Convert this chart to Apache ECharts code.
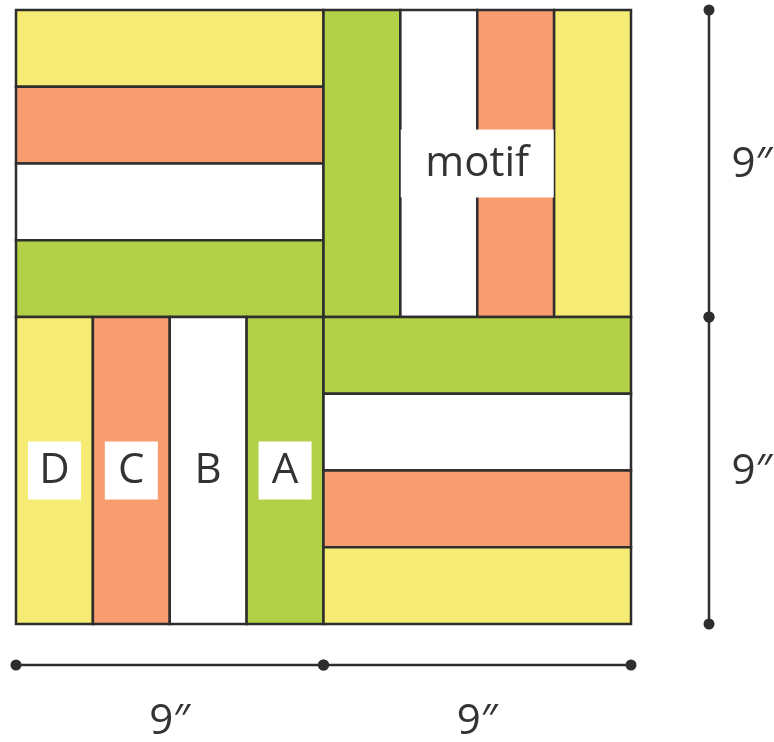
<!DOCTYPE html>
<html>
<head>
<meta charset="utf-8">
<script src="https://cdn.jsdelivr.net/npm/echarts@6/dist/echarts.min.js"></script>
<style>
html,body{margin:0;padding:0;background:#fff;}
#chart{width:774px;height:742px;}
</style>
</head>
<body>
<div id="chart"></div>
<script>
// ---- data (inches) ----
const blockSize = 9;              // each quadrant is 9" square
const stripsPerBlock = 4;
const quadrantCols = [0, 1, 0, 1];
const quadrantRows = [0, 0, 1, 1];
const quadrantOrientation = ['h', 'v', 'v', 'h']; // h = horizontal strips, v = vertical strips
const quadrantStrips = [
  ['yellow', 'salmon', 'white', 'green'],
  ['green', 'white', 'salmon', 'yellow'],
  ['yellow', 'salmon', 'white', 'green'],
  ['green', 'white', 'salmon', 'yellow']
];
const stripLetters = ['D', 'C', 'B', 'A'];     // strips of bottom-left quadrant
const stripLetterQuadrant = 2;
const motifLabel = 'motif';
const motifQuadrant = 1;
const dimTicks = [0, 9, 18];
const dimLabels = ['9\u2033', '9\u2033'];

// ---- styles ----
const palette = { yellow: '#f6ec73', salmon: '#f89d6f', white: '#ffffff', green: '#b3d146' };
const ink = '#2e2e2e';
const textColor = '#333333';
const fontFamily = '"Open Sans", "DejaVu Sans", sans-serif';

// build strip rectangles
const stripData = [];
quadrantStrips.forEach((strips, q) => {
  const qx = quadrantCols[q] * blockSize, qy = quadrantRows[q] * blockSize;
  const w = blockSize / stripsPerBlock;
  strips.forEach((c, i) => {
    let r;
    if (quadrantOrientation[q] === 'h') r = [qx, qy + i * w, qx + blockSize, qy + (i + 1) * w];
    else r = [qx + i * w, qy, qx + (i + 1) * w, qy + blockSize];
    stripData.push({ value: r, itemStyle: { color: palette[c] } });
  });
});

// labelled strips
const letterData = stripLetters.map((t, i) => {
  const w = blockSize / stripsPerBlock;
  const qx = quadrantCols[stripLetterQuadrant] * blockSize, qy = quadrantRows[stripLetterQuadrant] * blockSize;
  return { value: [qx + (i + 0.5) * w, qy + blockSize / 2], name: t, box: t !== 'B' };
});
const motifData = [{
  value: [quadrantCols[motifQuadrant] * blockSize + blockSize / 2, quadrantRows[motifQuadrant] * blockSize + blockSize / 2],
  name: motifLabel, box: true
}];

const segs = [];
for (let i = 0; i < dimTicks.length - 1; i++) segs.push({ value: [dimTicks[i], dimTicks[i + 1]], name: dimLabels[i] });

const total = blockSize * 2;
const chart = echarts.init(document.getElementById('chart'));

function labelItem(boxW, boxH) {
  return function (params, api) {
    const p = api.coord([api.value(0), api.value(1)]);
    const d = params.dataIndex;
    const item = this_data[params.seriesName][d];
    const children = [];
    if (item.box) children.push({ type: 'rect', shape: { x: p[0] - boxW / 2, y: p[1] - boxH / 2, width: boxW, height: boxH }, style: { fill: '#fff' } });
    children.push({ type: 'text', style: { text: item.name, x: p[0], y: p[1] + 1, align: 'center', verticalAlign: 'middle', fill: textColor, font: '42px ' + fontFamily } });
    return { type: 'group', children };
  };
}
const this_data = { letters: letterData, motif: motifData };

function dimRender(horizontal) {
  return function (params, api) {
    const a = api.value(0), b = api.value(1);
    let p0, p1;
    if (horizontal) { p0 = api.coord([a, total]); p1 = api.coord([b, total]); p0[1] += 41; p1[1] += 41; }
    else { p0 = api.coord([total, a]); p1 = api.coord([total, b]); p0[0] += 78; p1[0] += 78; }
    const mid = [(p0[0] + p1[0]) / 2, (p0[1] + p1[1]) / 2];
    const tp = horizontal ? [mid[0], mid[1] + 57] : [mid[0] + 43, mid[1] + 2];
    return {
      type: 'group', children: [
        { type: 'line', shape: { x1: p0[0], y1: p0[1], x2: p1[0], y2: p1[1] }, style: { stroke: ink, lineWidth: 2.5 } },
        { type: 'circle', shape: { cx: p0[0], cy: p0[1], r: 5.5 }, style: { fill: ink } },
        { type: 'circle', shape: { cx: p1[0], cy: p1[1], r: 5.5 }, style: { fill: ink } },
        { type: 'text', style: { text: segs[params.dataIndex].name, x: tp[0], y: tp[1], align: 'center', verticalAlign: 'middle', fill: textColor, font: '42px ' + fontFamily } }
      ]
    };
  };
}

chart.setOption({
  animation: false,
  backgroundColor: '#ffffff',
  grid: { left: 16, top: 10, width: 615, height: 614 },
  xAxis: { type: 'value', min: 0, max: total, show: false },
  yAxis: { type: 'value', min: 0, max: total, inverse: true, show: false },
  series: [
    {
      type: 'custom', name: 'strips', data: stripData, clip: false,
      encode: { x: [0, 2], y: [1, 3] },
      renderItem: function (params, api) {
        const a = api.coord([api.value(0), api.value(1)]);
        const b = api.coord([api.value(2), api.value(3)]);
        return {
          type: 'rect',
          shape: { x: Math.min(a[0], b[0]), y: Math.min(a[1], b[1]), width: Math.abs(b[0] - a[0]), height: Math.abs(b[1] - a[1]) },
          style: { fill: api.visual('color'), stroke: ink, lineWidth: 2.5 }
        };
      }
    },
    { type: 'custom', name: 'letters', data: letterData, clip: false, renderItem: labelItem(53, 58) },
    { type: 'custom', name: 'motif', data: motifData, clip: false, renderItem: labelItem(153, 68) },
    { type: 'custom', name: 'dimX', data: segs, clip: false, renderItem: dimRender(true) },
    { type: 'custom', name: 'dimY', data: segs, clip: false, renderItem: dimRender(false) }
  ]
});
</script>
</body>
</html>
